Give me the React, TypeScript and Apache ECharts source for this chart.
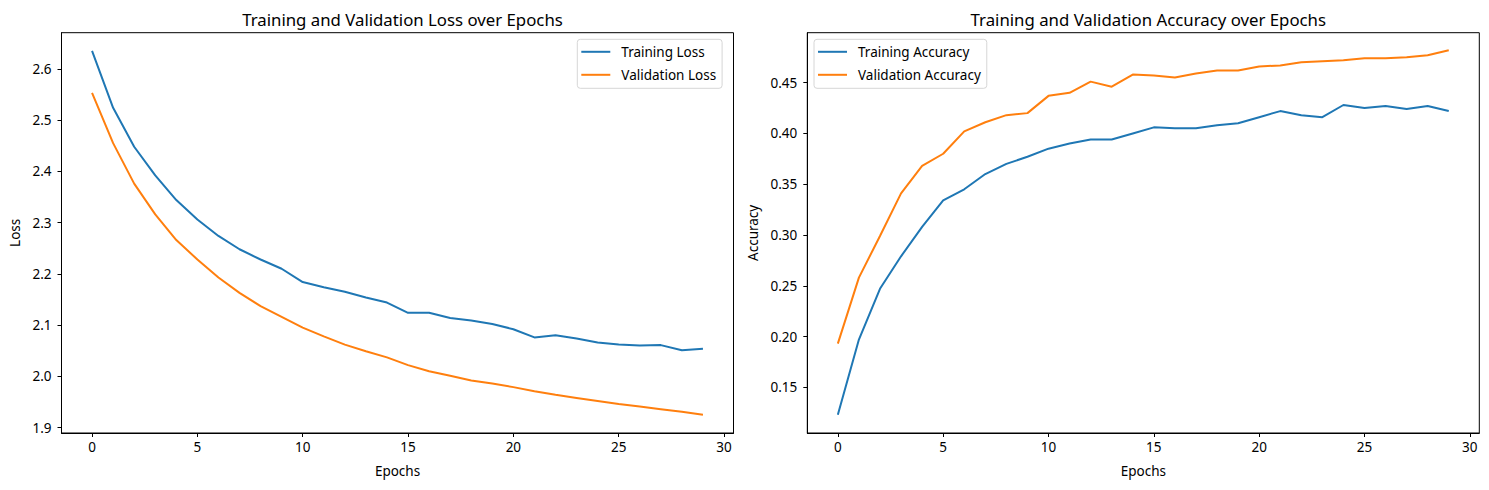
import React, { useEffect, useRef } from "react";
import * as echarts from "echarts";

const epochs = Array.from({ length: 30 }, (_, i) => i);

const trainLoss = [
  2.635, 2.524, 2.448, 2.392, 2.344, 2.306, 2.274, 2.248, 2.228, 2.21,
  2.184, 2.174, 2.165, 2.154, 2.144, 2.124, 2.124, 2.114, 2.109, 2.102,
  2.092, 2.076, 2.08, 2.074, 2.066, 2.062, 2.06, 2.061, 2.051, 2.054,
];
const valLoss = [
  2.553, 2.455, 2.376, 2.316, 2.266, 2.228, 2.193, 2.163, 2.137, 2.116,
  2.095, 2.078, 2.062, 2.049, 2.037, 2.022, 2.01, 2.001, 1.992, 1.986,
  1.979, 1.971, 1.964, 1.958, 1.952, 1.946, 1.941, 1.936, 1.931, 1.925,
];
const trainAcc = [
  0.123, 0.197, 0.247, 0.279, 0.308, 0.334, 0.345, 0.36, 0.37, 0.377,
  0.385, 0.39, 0.394, 0.394, 0.4, 0.406, 0.405, 0.405, 0.408, 0.41,
  0.416, 0.422, 0.418, 0.416, 0.428, 0.425, 0.427, 0.424, 0.427, 0.422,
];
const valAcc = [
  0.193, 0.258, 0.299, 0.341, 0.368, 0.38, 0.402, 0.411, 0.418, 0.42,
  0.437, 0.44, 0.451, 0.446, 0.458, 0.457, 0.455, 0.459, 0.462, 0.462,
  0.466, 0.467, 0.47, 0.471, 0.472, 0.474, 0.474, 0.475, 0.477, 0.482,
];

const xTicks = [0, 5, 10, 15, 20, 25, 30];
const lossTicks = [1.9, 2.0, 2.1, 2.2, 2.3, 2.4, 2.5, 2.6];
const accTicks = [0.15, 0.2, 0.25, 0.3, 0.35, 0.4, 0.45];

const FONT = "Noto Sans";
const BLUE = "#1f77b4";
const ORANGE = "#ff7f0e";

const pairs = (ys: number[]) => epochs.map((x, i) => [x, ys[i]]);

export default function App() {
  const ref = useRef<HTMLDivElement>(null);
  useEffect(() => {
    document.body.style.margin = "0";
    const chart = echarts.init(ref.current!, null, { renderer: "svg" });
    const tickFont = { fontFamily: FONT, fontSize: 13.5, color: "#000" };
    const grids = [
      { left: 61.5, top: 32.7, width: 672, height: 400.3 },
      { left: 807.3, top: 32.7, width: 672, height: 400.3 },
    ];
    const xAxisBase = (gi: number) => ({
      type: "value",
      gridIndex: gi,
      min: -1.45,
      max: 30.45,
      name: "Epochs",
      nameLocation: "middle",
      nameGap: 31,
      nameTextStyle: { fontFamily: FONT, fontSize: 13.5, color: "#000" },
      splitLine: { show: false },
      axisLine: { show: true, onZero: false, lineStyle: { color: "#000", width: 1 } },
      axisTick: { show: true, customValues: xTicks, length: 4, lineStyle: { color: "#000" } },
      axisLabel: { ...tickFont, customValues: xTicks, margin: 7 },
    });
    const yAxisBase = (gi: number, min: number, max: number, ticks: number[], digits: number, name: string, gap: number) => ({
      type: "value",
      gridIndex: gi,
      min,
      max,
      name,
      nameLocation: "middle",
      nameGap: gap,
      nameTextStyle: { fontFamily: FONT, fontSize: 13.5, color: "#000" },
      splitLine: { show: false },
      axisLine: { show: true, onZero: false, lineStyle: { color: "#000", width: 1 } },
      axisTick: { show: true, customValues: ticks, length: 4, lineStyle: { color: "#000" } },
      axisLabel: {
        ...tickFont,
        customValues: ticks,
        margin: 10,
        formatter: (v: number) => v.toFixed(digits),
      },
    });
    const legendBase = {
      orient: "vertical",
      icon: "rect",
      itemWidth: 29,
      itemHeight: 2,
      itemGap: 6,
      padding: [4, 6, 5, 4],
      backgroundColor: "#fff",
      borderColor: "#d6d6d6",
      borderWidth: 1,
      borderRadius: 3,
      textStyle: { fontFamily: FONT, fontSize: 13.5, color: "#000", lineHeight: 17, padding: [0, 0, 0, 6] },
    };
    chart.setOption({
      animation: false,
      backgroundColor: "#fff",
      title: [
        {
          text: "Training and Validation Loss over Epochs",
          left: 397.5,
          top: 6,
          textAlign: "center",
          textStyle: { fontFamily: FONT, fontSize: 16.8, fontWeight: "normal", color: "#000" },
        },
        {
          text: "Training and Validation Accuracy over Epochs",
          left: 1143.3,
          top: 6,
          textAlign: "center",
          textStyle: { fontFamily: FONT, fontSize: 16.8, fontWeight: "normal", color: "#000" },
        },
      ],
      grid: grids.map((g) => ({ ...g, show: true, borderColor: "#000", borderWidth: 1, backgroundColor: "transparent" })),
      xAxis: [xAxisBase(0), xAxisBase(1)],
      yAxis: [
        yAxisBase(0, 1.8895, 2.6705, lossTicks, 1, "Loss", 40),
        yAxisBase(1, 0.105, 0.4992, accTicks, 2, "Accuracy", 47),
      ],
      legend: [
        { ...legendBase, left: 577.3, top: 39.3, data: ["Training Loss", "Validation Loss"] },
        { ...legendBase, left: 814, top: 39.3, data: ["Training Accuracy", "Validation Accuracy"] },
      ],
      series: [
        { name: "Training Loss", type: "line", xAxisIndex: 0, yAxisIndex: 0, data: pairs(trainLoss), showSymbol: false, color: BLUE, lineStyle: { width: 2, color: BLUE } },
        { name: "Validation Loss", type: "line", xAxisIndex: 0, yAxisIndex: 0, data: pairs(valLoss), showSymbol: false, color: ORANGE, lineStyle: { width: 2, color: ORANGE } },
        { name: "Training Accuracy", type: "line", xAxisIndex: 1, yAxisIndex: 1, data: pairs(trainAcc), showSymbol: false, color: BLUE, lineStyle: { width: 2, color: BLUE } },
        { name: "Validation Accuracy", type: "line", xAxisIndex: 1, yAxisIndex: 1, data: pairs(valAcc), showSymbol: false, color: ORANGE, lineStyle: { width: 2, color: ORANGE } },
      ],
    });
    return () => chart.dispose();
  }, []);
  return <div ref={ref} style={{ width: 1489, height: 490 }} />;
}
